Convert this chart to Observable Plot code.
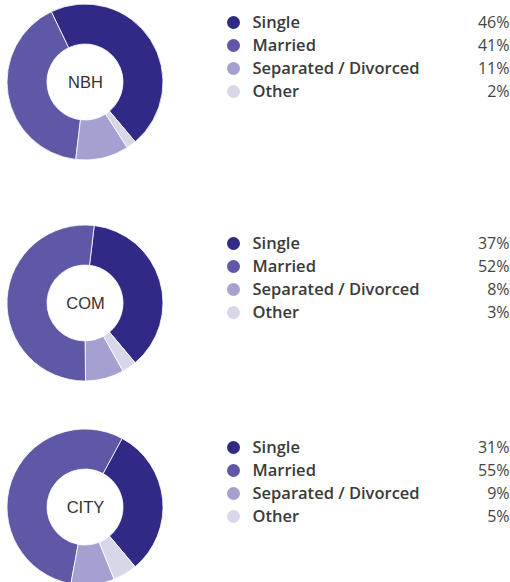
<!DOCTYPE html>
<html>
<head>
<meta charset="utf-8">
<script src="https://cdn.jsdelivr.net/npm/d3@7"></script>
<script src="https://cdn.jsdelivr.net/npm/@observablehq/plot@0.6"></script>
<style>
  html, body { margin: 0; padding: 0; background: #fff; }
  #chart { width: 510px; }
  #chart svg { display: block; }
</style>
</head>
<body>
<div id="chart"></div>
<script>
const categories = ["Single", "Married", "Separated / Divorced", "Other"];
const regions = ["NBH", "COM", "CITY"];
const nbhValues = [46, 41, 11, 2];
const comValues = [37, 52, 8, 3];
const cityValues = [31, 55, 9, 5];
const palette = ["#302a86", "#5f58a6", "#a4a1d0", "#d8d7ea"];

const seriesValues = [nbhValues, comValues, cityValues];
const rowHeights = [221, 204, 157];
const CX = 85, CY = 82, R_OUT = 78, R_IN = 38;
const START = 140 * Math.PI / 180;

function donutMark(data) {
  return (index, scales) => {
    const g = d3.create("svg:g");
    const pie = d3.pie().value(d => d.value).sort(null)
      .startAngle(START).endAngle(START - 2 * Math.PI);
    const arc = d3.arc().innerRadius(R_IN).outerRadius(R_OUT);
    g.attr("transform", `translate(${CX},${CY})`)
      .selectAll("path")
      .data(pie(data))
      .join("path")
      .attr("d", arc)
      .attr("fill", d => scales.color(d.data.category))
      .attr("stroke", "#fff")
      .attr("stroke-width", 0.8);
    return g.node();
  };
}

const chart = document.getElementById("chart");
regions.forEach((region, i) => {
  const data = categories.map((c, j) => ({category: c, value: seriesValues[i][j]}));
  const plot = Plot.plot({
    width: 510,
    height: rowHeights[i],
    margin: 0,
    style: {fontFamily: "'Open Sans', sans-serif", color: "#333", background: "#fff"},
    y: {type: "point", domain: categories, range: [21, 91.3], padding: 0, axis: null},
    x: {axis: null},
    color: {type: "ordinal", domain: categories, range: palette},
    marks: [
      donutMark(data),
      Plot.text([region], {text: d => d, frameAnchor: "top-left", dx: CX, dy: CY, fontSize: 16.5, fill: "#333", textAnchor: "middle", lineAnchor: "middle", fontFamily: "'Liberation Sans', Arial, sans-serif"}),
      Plot.dot(data, {y: "category", frameAnchor: "left", dx: 233, r: 6.5, fill: "category", stroke: null}),
      Plot.text(data, {y: "category", text: "category", frameAnchor: "left", dx: 252, textAnchor: "start", fontSize: 16.5, fill: "#3a3a3a", fontWeight: 600}),
      Plot.text(data, {y: "category", text: d => d.value + "%", frameAnchor: "right", dx: -1, textAnchor: "end", fontSize: 16, fill: "#444"})
    ]
  });
  chart.appendChild(plot);
});
</script>
</body>
</html>
